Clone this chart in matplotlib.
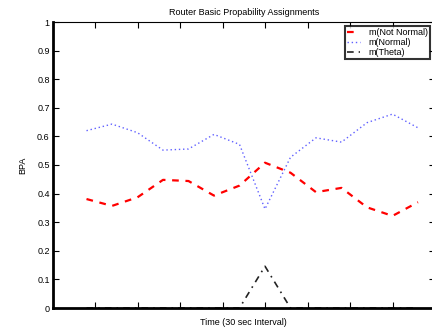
import numpy as np
import matplotlib
matplotlib.use("Agg")
import matplotlib.pyplot as plt

plt.rcParams['font.family'] = ['Liberation Sans', 'DejaVu Sans']

# time in seconds, one sample every 30 sec
t = [40, 70, 100, 130, 160, 190, 220, 250, 280, 310, 340, 370, 400, 430]
not_normal = [0.381, 0.357, 0.387, 0.448, 0.444, 0.393, 0.428, 0.508, 0.473, 0.405, 0.42, 0.352, 0.322, 0.37]
normal = [0.62, 0.643, 0.613, 0.552, 0.556, 0.607, 0.572, 0.346, 0.527, 0.595, 0.58, 0.648, 0.678, 0.63]
theta = [0, 0, 0, 0, 0, 0, 0, 0.146, 0, 0, 0, 0, 0, 0]

fig = plt.figure(figsize=(4.32, 3.29), dpi=100)
ax = fig.add_axes([52.5 / 432, 1 - 308 / 329, (435 - 52.5) / 432, (308 - 22) / 329])

ax.plot(t, not_normal, color='red', linestyle=(0, (3, 3)), linewidth=1.6, label='m(Not Normal)')
ax.plot(t, normal, color='#6060ff', linestyle=(0, (1, 2)), linewidth=1.0, label='m(Normal)')
ax.plot(t, theta, color='#222222', linestyle=(0, (4, 3, 1, 3)), linewidth=1.2, label='m(Theta)', zorder=1)

ax.set_xlim(0, 450)
ax.set_ylim(0, 1)
ax.set_xticks(np.arange(50, 450, 50))
ax.set_xticklabels([])
ax.set_yticks(np.arange(0, 1.01, 0.1))
ax.set_yticklabels(['0', '0.1', '0.2', '0.3', '0.4', '0.5', '0.6', '0.7', '0.8', '0.9', '1'])
ax.tick_params(direction='in', length=4, width=0.8, top=True, right=True, labelsize=6.5, pad=2)

for side in ['left', 'bottom']:
    ax.spines[side].set_linewidth(2)
    ax.spines[side].set_zorder(5)
ax.spines['top'].set_linewidth(0.8)
ax.spines['right'].set_linewidth(0.8)

ax.set_title('Router Basic Propability Assignments', fontsize=6.5, pad=5)
ax.set_xlabel('Time (30 sec Interval)', fontsize=6.5, labelpad=5)
ax.set_ylabel('BPA', fontsize=6.5, labelpad=7)

leg = ax.legend(loc='upper right', bbox_to_anchor=((430 - 52.5) / (435 - 52.5), 1 - 4 / 286),
                fontsize=6.5, frameon=True, fancybox=False, handlelength=1.4,
                borderpad=0.25, labelspacing=0.1, handletextpad=1.0, borderaxespad=0)
leg.get_frame().set_edgecolor('black')
leg.get_frame().set_linewidth(1.5)

fig.savefig('out.png', dpi=100)
